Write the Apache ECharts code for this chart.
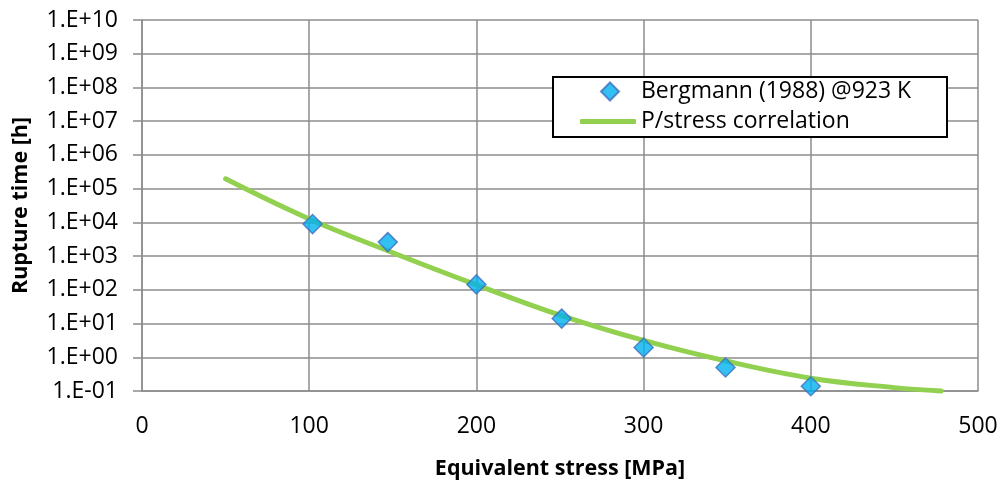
<!DOCTYPE html>
<html>
<head>
<meta charset="utf-8">
<script src="https://cdn.jsdelivr.net/npm/echarts@6/dist/echarts.min.js"></script>
<style>
html,body{margin:0;padding:0;background:#fff;}
#chart{width:1001px;height:485px;}
</style>
</head>
<body>
<div id="chart"></div>
<script>
// Experimental data: Bergmann (1988) @923 K
const dataStress = [102, 147, 200, 251, 300, 349, 400];
const dataTime   = [8900, 2600, 145, 14, 1.95, 0.5, 0.138];
// P/stress correlation curve
const fitStress = [50, 100, 150, 200, 250, 300, 350, 400, 450, 478];
const fitTime   = [1.95e5, 1.26e4, 1260, 141, 17.8, 3.16, 0.76, 0.24, 0.126, 0.1];
// Tick labels
const xTicks = [0, 100, 200, 300, 400, 500];
const yTickLabels = ['1.E-01','1.E+00','1.E+01','1.E+02','1.E+03','1.E+04','1.E+05','1.E+06','1.E+07','1.E+08','1.E+09','1.E+10'];
const seriesNames = ['Bergmann (1988) @923 K', 'P/stress correlation'];

const FONT = 'Open Sans';
const GRID_COLOR = '#8c8c8c';
const LINE_COLOR = '#92D050';

const chart = echarts.init(document.getElementById('chart'), null, {renderer: 'canvas'});
const legendText = {fontFamily: FONT, fontSize: 23, color: '#000'};
const option = {
  animation: false,
  backgroundColor: '#fff',
  grid: {left: 142, right: 23, top: 20, bottom: 89, containLabel: false},
  xAxis: {
    type: 'value',
    min: xTicks[0], max: xTicks[xTicks.length - 1], interval: 100,
    name: 'Equivalent stress [MPa]',
    nameLocation: 'middle', nameGap: 67,
    nameTextStyle: {fontFamily: FONT, fontWeight: 'bold', fontSize: 21.5, color: '#000'},
    axisLine: {show: true, lineStyle: {color: GRID_COLOR, width: 1.5}},
    axisTick: {show: false},
    axisLabel: {fontFamily: FONT, fontSize: 23, color: '#000', margin: 24},
    splitLine: {show: true, lineStyle: {color: GRID_COLOR, width: 1.5}}
  },
  yAxis: {
    type: 'log', logBase: 10,
    min: 0.1, max: 1e10, interval: 1,
    name: 'Rupture time [h]',
    nameLocation: 'middle', nameGap: 110, nameRotate: 90,
    nameTextStyle: {fontFamily: FONT, fontWeight: 'bold', fontSize: 21.5, color: '#000'},
    axisLine: {show: true, lineStyle: {color: GRID_COLOR, width: 1.5}},
    axisTick: {show: true, inside: false, length: 9, lineStyle: {color: GRID_COLOR, width: 1.5}},
    axisLabel: {
      fontFamily: FONT, fontSize: 23, color: '#000', margin: 24,
      formatter: function (v) {
        const e = Math.round(Math.log10(v));
        return yTickLabels[e + 1] !== undefined ? yTickLabels[e + 1] : '';
      }
    },
    splitLine: {show: true, lineStyle: {color: GRID_COLOR, width: 1.5}}
  },
  legend: [
    {
      orient: 'vertical', left: 600, top: 80, padding: 0,
      itemWidth: 18, itemHeight: 18, z: 10,
      textStyle: Object.assign({padding: [0, 0, 0, 17]}, legendText),
      data: [{name: seriesNames[0], icon: 'diamond'}]
    },
    {
      orient: 'vertical', left: 580, top: 110, padding: 0,
      itemWidth: 56, itemHeight: 5, z: 10,
      textStyle: legendText,
      data: [{name: seriesNames[1], icon: 'roundRect', itemStyle: {color: LINE_COLOR, borderWidth: 0}}]
    }
  ],
  graphic: [{
    type: 'rect', z: 5,
    shape: {x: 553, y: 77, width: 394, height: 60},
    style: {fill: '#fff', stroke: '#000', lineWidth: 2}
  }],
  series: [
    {
      name: seriesNames[1], type: 'line', z: 2,
      data: fitStress.map((s, i) => [s, fitTime[i]]),
      symbol: 'none', showSymbol: false, smooth: 0.4, clip: false,
      lineStyle: {color: LINE_COLOR, width: 5, cap: 'round'},
      itemStyle: {color: LINE_COLOR}
    },
    {
      name: seriesNames[0], type: 'scatter', z: 3,
      data: dataStress.map((s, i) => [s, dataTime[i]]),
      symbol: 'diamond', symbolSize: 19,
      itemStyle: {color: '#00B0F0', borderColor: '#3F6FC0', borderWidth: 1.5}
    }
  ]
};
chart.setOption(option);
</script>
</body>
</html>
